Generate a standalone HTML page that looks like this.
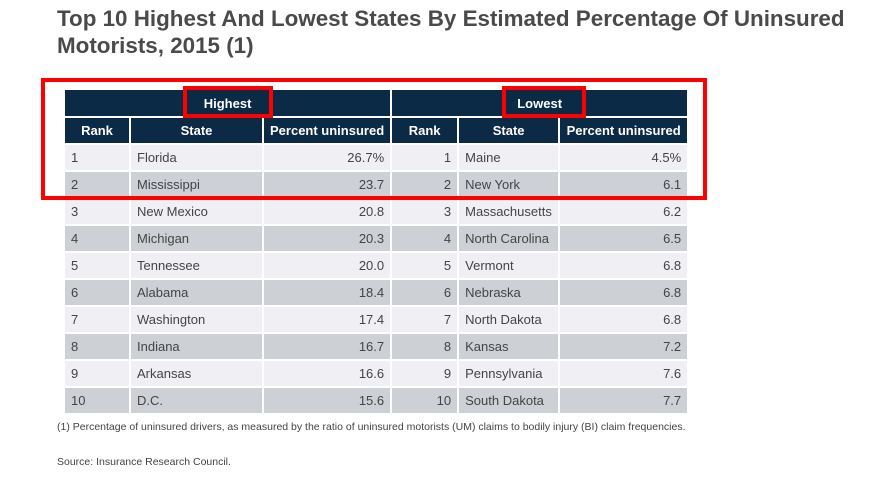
<!DOCTYPE html>
<html><head><meta charset="utf-8"><style>
body{margin:0;width:874px;height:477px;background:#fff;font-family:"Liberation Sans",sans-serif;position:relative;overflow:hidden}
.t{position:absolute;left:57px;top:5px;font-size:22.4px;font-weight:bold;color:#4a4a4a;line-height:27px;white-space:nowrap}
table{position:absolute;left:63px;top:88px;border-collapse:separate;border-spacing:2px;table-layout:fixed}
td,th{padding:0 6px;font-size:13px;height:25px;color:#444;white-space:nowrap;overflow:hidden}
th{background:#0b2a45;color:#fff;font-weight:bold;text-align:center}
tr.h1 th{height:26px}
tr.o td{background:#efeff4}
tr.e td{background:#cdd0d5}
.r{text-align:right}
.box{position:absolute;border:4px solid #f00;box-sizing:border-box}
.f{position:absolute;left:57px;font-size:10.5px;color:#444}
</style></head><body>
<div class="t">Top 10 Highest And Lowest States By Estimated Percentage Of Uninsured<br>Motorists, 2015 (1)</div>
<table>
<colgroup><col style="width:64px"><col style="width:131px"><col style="width:126px"><col style="width:65px"><col style="width:99px"><col style="width:127px"></colgroup>
<tr class="h1"><th colspan="3">Highest</th><th colspan="3">Lowest</th></tr>
<tr><th>Rank</th><th>State</th><th>Percent uninsured</th><th>Rank</th><th>State</th><th>Percent uninsured</th></tr>
<tr class="o"><td>1</td><td>Florida</td><td class="r">26.7%</td><td class="r">1</td><td>Maine</td><td class="r">4.5%</td></tr>
<tr class="e"><td>2</td><td>Mississippi</td><td class="r">23.7</td><td class="r">2</td><td>New York</td><td class="r">6.1</td></tr>
<tr class="o"><td>3</td><td>New Mexico</td><td class="r">20.8</td><td class="r">3</td><td>Massachusetts</td><td class="r">6.2</td></tr>
<tr class="e"><td>4</td><td>Michigan</td><td class="r">20.3</td><td class="r">4</td><td>North Carolina</td><td class="r">6.5</td></tr>
<tr class="o"><td>5</td><td>Tennessee</td><td class="r">20.0</td><td class="r">5</td><td>Vermont</td><td class="r">6.8</td></tr>
<tr class="e"><td>6</td><td>Alabama</td><td class="r">18.4</td><td class="r">6</td><td>Nebraska</td><td class="r">6.8</td></tr>
<tr class="o"><td>7</td><td>Washington</td><td class="r">17.4</td><td class="r">7</td><td>North Dakota</td><td class="r">6.8</td></tr>
<tr class="e"><td>8</td><td>Indiana</td><td class="r">16.7</td><td class="r">8</td><td>Kansas</td><td class="r">7.2</td></tr>
<tr class="o"><td>9</td><td>Arkansas</td><td class="r">16.6</td><td class="r">9</td><td>Pennsylvania</td><td class="r">7.6</td></tr>
<tr class="e"><td>10</td><td>D.C.</td><td class="r">15.6</td><td class="r">10</td><td>South Dakota</td><td class="r">7.7</td></tr>
</table>
<div class="box" style="left:41px;top:78px;width:666px;height:122px"></div>
<div class="box" style="left:183px;top:86px;width:90px;height:32px"></div>
<div class="box" style="left:502px;top:86px;width:84px;height:32px"></div>
<div class="f" style="top:421px">(1) Percentage of uninsured drivers, as measured by the ratio of uninsured motorists (UM) claims to bodily injury (BI) claim frequencies.</div>
<div class="f" style="top:456px">Source: Insurance Research Council.</div>
</body></html>
